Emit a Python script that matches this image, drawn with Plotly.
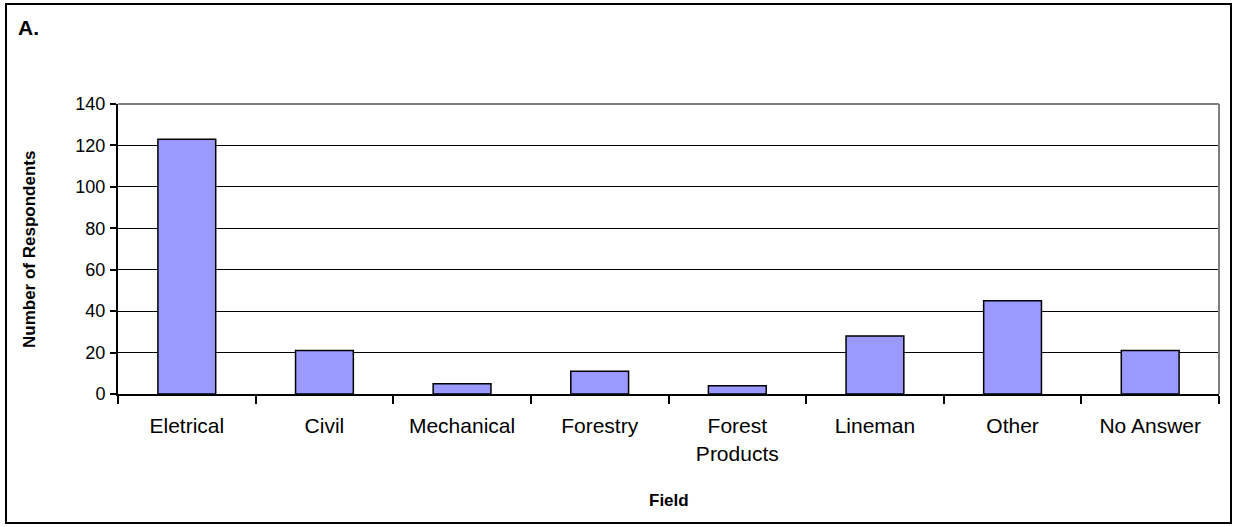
import plotly.graph_objects as go

# respondents by field
fields = ["Eletrical", "Civil", "Mechanical", "Forestry", "Forest<br>Products",
          "Lineman", "Other", "No Answer"]
respondents = [123, 21, 5, 11, 4, 28, 45, 21]
y_ticks = [0, 20, 40, 60, 80, 100, 120, 140]

W, H = 1236, 527
ml, mr, mt, mb = 118, 17, 104, 133
pw, ph = W - ml - mr, H - mt - mb


def px(x):
    return (x - ml) / pw


def py(y):
    return (H - mb - y) / ph


font = "Liberation Sans, Arial, sans-serif"

fig = go.Figure(go.Bar(
    x=fields,
    y=respondents,
    marker=dict(color="#9999FF", line=dict(color="black", width=1.5)),
))

fig.update_layout(
    width=W, height=H,
    margin=dict(l=ml, r=mr, t=mt, b=mb),
    plot_bgcolor="white", paper_bgcolor="white",
    font=dict(family=font, size=20, color="black"),
    bargap=0.58,
    showlegend=False,
)

fig.update_xaxes(
    tickson="boundaries", ticks="outside", ticklen=8, tickwidth=2, tickcolor="black",
    showline=True, linecolor="black", linewidth=2,
    showgrid=False, ticklabelstandoff=12,
    tickfont=dict(size=21),
)
fig.update_yaxes(
    range=[0, 140], tickvals=y_ticks, ticks="outside", ticklen=6, tickwidth=2,
    tickcolor="black", showline=True, linecolor="black", linewidth=2,
    showgrid=True, gridcolor="black", gridwidth=1, zeroline=False,
    ticklabelstandoff=1, tickfont=dict(size=18),
)

# gray top/right frame of plot area
fig.add_shape(type="line", xref="paper", yref="paper", x0=0, x1=1, y0=1, y1=1,
              line=dict(color="#808080", width=2))
fig.add_shape(type="line", xref="paper", yref="paper", x0=1, x1=1, y0=0, y1=1,
              line=dict(color="#808080", width=2))

# outer border
fig.add_shape(type="rect", xref="paper", yref="paper",
              x0=px(6), x1=px(1231), y0=py(523), y1=py(4),
              line=dict(color="black", width=2))

fig.add_annotation(text="<b>A.</b>", xref="paper", yref="paper",
                   x=px(16), y=py(28), xanchor="left", yanchor="middle",
                   showarrow=False, font=dict(size=21))
fig.add_annotation(text="<b>Number of Respondents</b>", xref="paper", yref="paper",
                   x=px(29), y=py(250), xanchor="center", yanchor="middle",
                   textangle=-90, showarrow=False, font=dict(size=17))
fig.add_annotation(text="<b>Field</b>", xref="paper", yref="paper",
                   x=px(669), y=py(500), xanchor="center", yanchor="middle",
                   showarrow=False, font=dict(size=17))

fig.write_html("out.html", config={"displayModeBar": False},
               post_script="document.body.style.margin='0';")
